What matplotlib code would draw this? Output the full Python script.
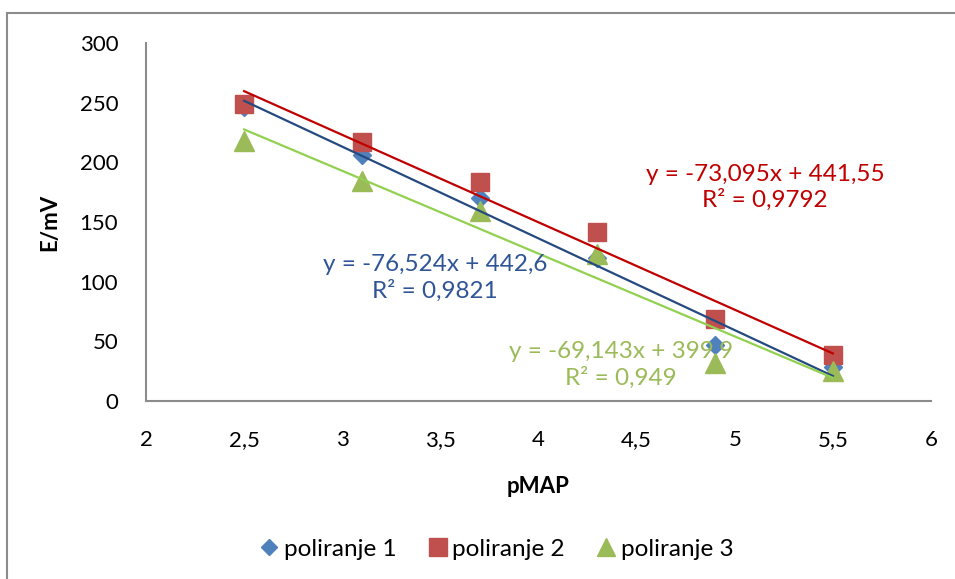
import matplotlib
matplotlib.use("Agg")
import matplotlib.pyplot as plt
from matplotlib.patches import Rectangle
from matplotlib.ticker import FuncFormatter
import numpy as np

plt.rcParams['font.family'] = ['Lato', 'DejaVu Sans']

x_vals = [2.5, 3.1, 3.7, 4.3, 4.9, 5.5]
pol1 = [246, 206, 170, 120, 47, 28.5]
pol2 = [249, 217, 183.5, 141.7, 68.7, 38.6]
pol3 = [218, 184, 159, 123, 32, 25]
series_names = ["poliranje 1", "poliranje 2", "poliranje 3"]
eq_texts = ["y = -76,524x + 442,6\nR² = 0,9821",
            "y = -73,095x + 441,55\nR² = 0,9792",
            "y = -69,143x + 399,9\nR² = 0,949"]
x_ticks = [2, 2.5, 3, 3.5, 4, 4.5, 5, 5.5, 6]
y_ticks = [0, 50, 100, 150, 200, 250, 300]

W, H = 955, 579
fig = plt.figure(figsize=(W/100, H/100), dpi=100)
ax = fig.add_axes([146/W, 1-401/H, (931-146)/W, (401-43)/H])

fig.patches.append(Rectangle((6.5/W, -0.1), 1.2, 1-13/H+0.1, transform=fig.transFigure,
                             fill=False, edgecolor='#8c8c8c', lw=1.5))

mcolors = ['#4F81BD', '#C0504D', '#9BBB59']
lcolors = ['#254A80', '#C00000', '#92D050']
tcolors = ['#2F5597', '#C00000', '#9BBB59']
markers = ['D', 's', '^']
msizes = [9, 13, 14]
data = [pol1, pol2, pol3]
xa = np.array(x_vals)
handles = []
for i, y in enumerate(data):
    h, = ax.plot(x_vals, y, linestyle='none', marker=markers[i], ms=msizes[i],
                 color=mcolors[i], label=series_names[i], zorder=2)
    handles.append(h)
for i, y in enumerate(data):
    k, b = np.polyfit(xa, np.array(y), 1)
    xs = np.array([x_vals[0], x_vals[-1]])
    ax.plot(xs, k*xs + b, color=lcolors[i], lw=1.6, zorder=3)

fs = 17.5
ax.text(3.473, 103, eq_texts[0], color=tcolors[0], ha='center', va='center', fontsize=fs, linespacing=1.25)
ax.text(5.154, 179, eq_texts[1], color=tcolors[1], ha='center', va='center', fontsize=fs, linespacing=1.25)
ax.text(4.42, 30, eq_texts[2], color=tcolors[2], ha='center', va='center', fontsize=fs, linespacing=1.25)

ax.set_xlim(2, 6)
ax.set_ylim(0, 300)
ax.set_xticks(x_ticks)
ax.set_yticks(y_ticks)
fmt = FuncFormatter(lambda v, p: ('%g' % v).replace('.', ','))
ax.xaxis.set_major_formatter(fmt)
ax.yaxis.set_major_formatter(fmt)
ax.tick_params(length=0, labelsize=16)
ax.tick_params(axis='x', pad=21)
ax.tick_params(axis='y', pad=20)
for s in ['top', 'right']:
    ax.spines[s].set_visible(False)
for s in ['left', 'bottom']:
    ax.spines[s].set_color('#8c8c8c')
    ax.spines[s].set_linewidth(1.5)
ax.set_xlabel('pMAP', fontsize=16, fontweight='bold')
ax.set_ylabel('E/mV', fontsize=16, fontweight='bold')
ax.xaxis.set_label_coords(0.5, -(476-401)/358)
ax.yaxis.set_label_coords((60-146)/785, 0.5)

fig.legend(handles=handles, loc='center', bbox_to_anchor=(494/W, 1-549/H), ncol=3,
           frameon=False, fontsize=17.5, handletextpad=0.0, columnspacing=1.1,
           handlelength=1.2, markerscale=0.95)

fig.savefig('out.png', dpi=100)
